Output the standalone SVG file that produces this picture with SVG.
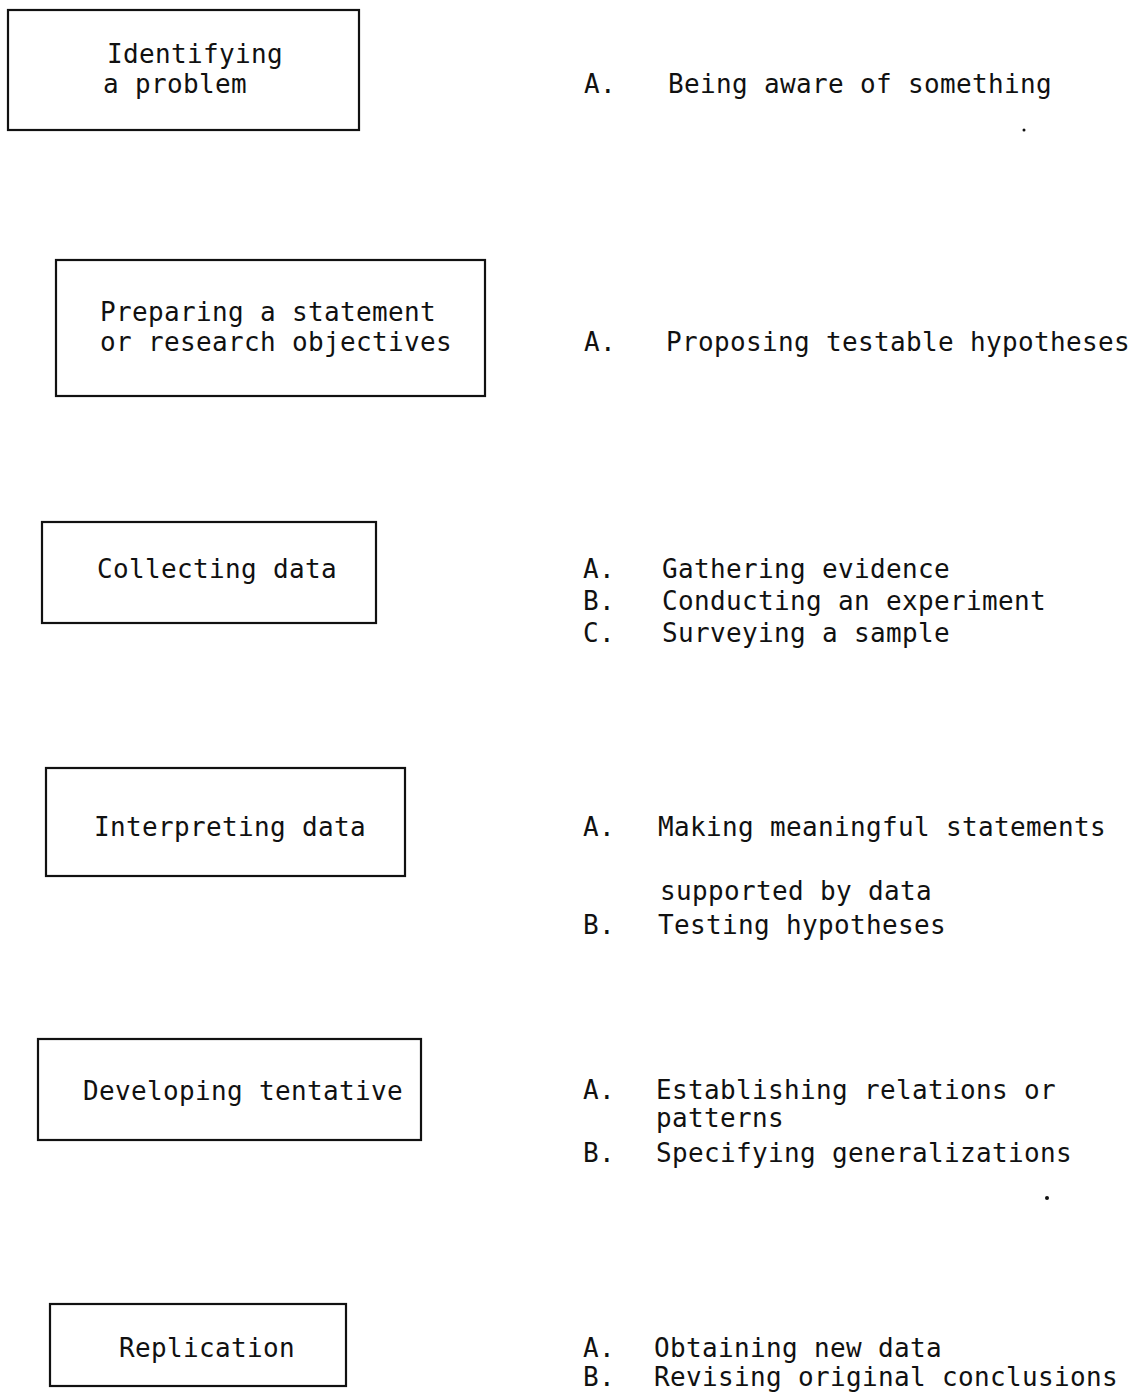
<svg xmlns="http://www.w3.org/2000/svg" width="1133" height="1397" viewBox="0 0 1133 1397">
<style>
  .box { fill: none; stroke: #111; stroke-width: 2.2; }
  text { font-family: "DejaVu Sans Mono", "Liberation Mono", monospace; font-size: 26px; letter-spacing: 0.35px; fill: #111; }
</style>
<rect x="0" y="0" width="1133" height="1397" fill="#ffffff"/>
<g id="connectors"></g>

<g id="node-identifying">
  <rect class="box" x="8" y="10" width="351" height="120"/>
  <text x="107" y="63">Identifying</text>
  <text x="103" y="93">a problem</text>
</g>
<g id="list-identifying">
  <text x="584" y="93">A.</text>
  <text x="668" y="93">Being aware of something</text>
</g>

<g id="node-preparing">
  <rect class="box" x="56" y="260" width="429" height="136"/>
  <text x="100" y="321">Preparing a statement</text>
  <text x="100" y="351">or research objectives</text>
</g>
<g id="list-preparing">
  <text x="584" y="351">A.</text>
  <text x="666" y="351">Proposing testable hypotheses</text>
</g>

<g id="node-collecting">
  <rect class="box" x="42" y="522" width="334" height="101"/>
  <text x="97" y="578">Collecting data</text>
</g>
<g id="list-collecting">
  <text x="583" y="578">A.</text>
  <text x="662" y="578">Gathering evidence</text>
  <text x="583" y="610">B.</text>
  <text x="662" y="610">Conducting an experiment</text>
  <text x="583" y="642">C.</text>
  <text x="662" y="642">Surveying a sample</text>
</g>

<g id="node-interpreting">
  <rect class="box" x="46" y="768" width="359" height="108"/>
  <text x="94" y="836">Interpreting data</text>
</g>
<g id="list-interpreting">
  <text x="583" y="836">A.</text>
  <text x="658" y="836">Making meaningful statements</text>
  <text x="660" y="900">supported by data</text>
  <text x="583" y="934">B.</text>
  <text x="658" y="934">Testing hypotheses</text>
</g>

<g id="node-developing">
  <rect class="box" x="38" y="1039" width="383" height="101"/>
  <text x="83" y="1100">Developing tentative</text>
</g>
<g id="list-developing">
  <text x="583" y="1099">A.</text>
  <text x="656" y="1099">Establishing relations or</text>
  <text x="656" y="1127">patterns</text>
  <text x="583" y="1162">B.</text>
  <text x="656" y="1162">Specifying generalizations</text>
</g>

<g id="node-replication">
  <rect class="box" x="50" y="1304" width="296" height="82"/>
  <text x="119" y="1357">Replication</text>
</g>
<g id="list-replication">
  <text x="583" y="1357">A.</text>
  <text x="654" y="1357">Obtaining new data</text>
  <text x="583" y="1386">B.</text>
  <text x="654" y="1386">Revising original conclusions</text>
</g>

<g id="specks">
  <circle cx="1024" cy="130" r="1.5" fill="#111"/>
  <circle cx="1047" cy="1198" r="2" fill="#111"/>
</g>
</svg>
